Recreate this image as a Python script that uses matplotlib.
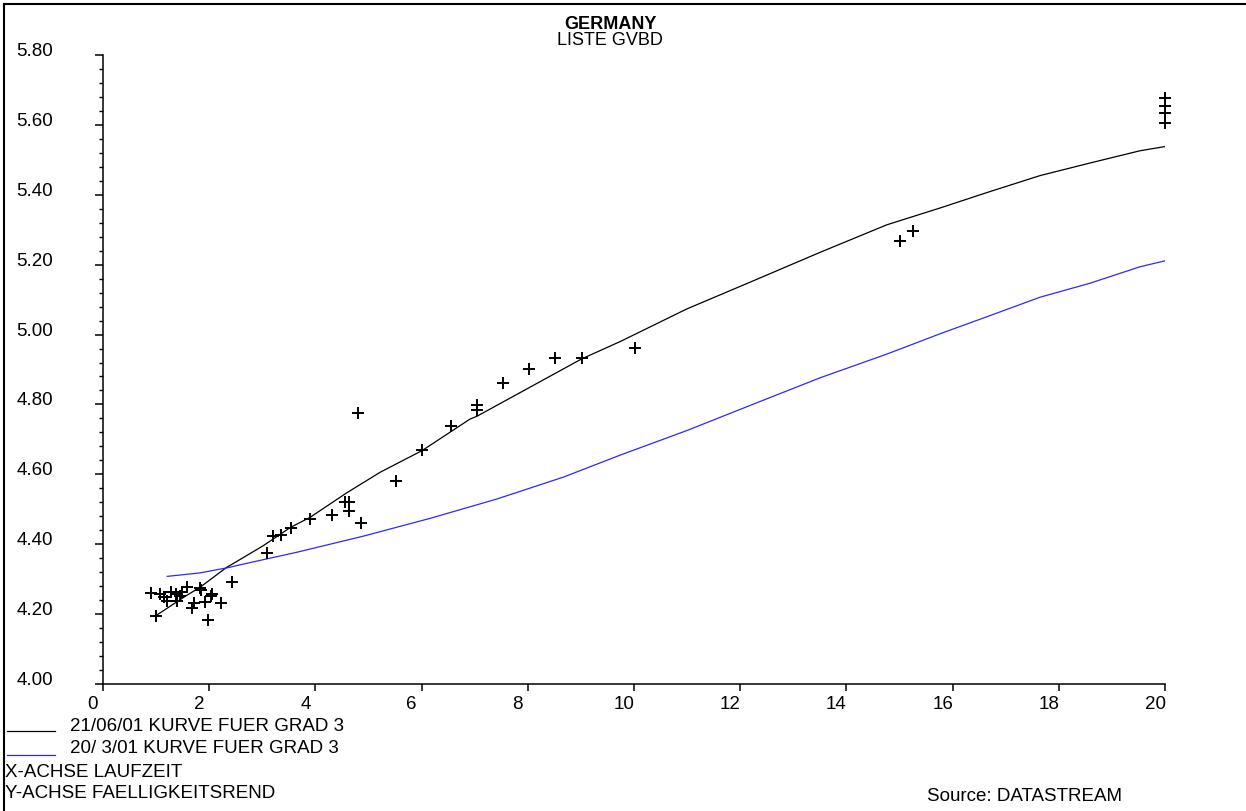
import matplotlib
matplotlib.use("Agg")
import matplotlib.pyplot as plt
from matplotlib.lines import Line2D
from matplotlib.ticker import MultipleLocator, FormatStrFormatter
from matplotlib.transforms import ScaledTranslation

plt.rcParams["font.family"] = ["Liberation Sans", "DejaVu Sans"]
FS = 13.5

# bonds: maturity (years) vs redemption yield
bond_mat = [0.90, 0.99, 1.07, 1.15, 1.21, 1.29, 1.37, 1.40, 1.45, 1.49,
            1.59, 1.67, 1.72, 1.83, 1.85, 1.92, 1.98, 2.03, 2.05, 2.23,
            2.42, 3.08, 3.21, 3.36, 3.54, 3.90, 4.32, 4.56, 4.64, 4.64,
            4.81, 4.86, 5.52, 6.01, 6.55, 7.04, 7.04, 7.54, 8.03, 8.52,
            9.02, 10.02, 15.00, 15.25, 20.0, 20.0, 20.0, 20.0]
bond_yld = [4.260, 4.195, 4.258, 4.250, 4.238, 4.262, 4.258, 4.238, 4.251, 4.264,
            4.278, 4.217, 4.232, 4.276, 4.270, 4.234, 4.184, 4.253, 4.258, 4.232,
            4.293, 4.374, 4.423, 4.427, 4.445, 4.472, 4.485, 4.522, 4.522, 4.496,
            4.775, 4.460, 4.582, 4.670, 4.737, 4.797, 4.784, 4.861, 4.902, 4.934,
            4.934, 4.962, 5.269, 5.295, 5.676, 5.655, 5.634, 5.605]

# fitted curve 21/06/01
curve1_x = [0.99, 1.57, 1.83, 2.33, 2.39, 3.02, 3.53, 3.90, 4.59, 5.22,
            6.01, 6.91, 7.04, 9.01, 9.74, 10.99, 12.25, 13.50, 14.76, 15.76,
            16.70, 17.65, 18.59, 19.53, 20.0]
curve1_y = [4.195, 4.253, 4.277, 4.334, 4.339, 4.396, 4.448, 4.477, 4.547, 4.606,
            4.668, 4.758, 4.766, 4.930, 4.980, 5.073, 5.154, 5.235, 5.314, 5.362,
            5.409, 5.455, 5.491, 5.526, 5.538]

# fitted curve 20/3/01
curve2_x = [1.21, 1.83, 2.39, 2.52, 3.65, 4.90, 6.16, 7.41, 8.67, 9.74,
            10.99, 12.25, 13.50, 14.76, 15.76, 16.70, 17.65, 18.59, 19.53, 20.0]
curve2_y = [4.308, 4.318, 4.334, 4.339, 4.377, 4.423, 4.474, 4.529, 4.592, 4.655,
            4.725, 4.801, 4.876, 4.944, 5.002, 5.054, 5.107, 5.147, 5.194, 5.211]

labels = ["21/06/01 KURVE FUER GRAD 3", "20/ 3/01 KURVE FUER GRAD 3"]
colors = ["black", "#2a2aff"]

W, H = 1246, 812
fig = plt.figure(figsize=(W / 100, H / 100), dpi=100)


def fx(px):
    return px / W


def fy(py):
    return 1 - py / H


ax = fig.add_axes([fx(103), fy(685), fx(1165) - fx(103), fy(56) - fy(685)])
ax.plot(curve1_x, curve1_y, color=colors[0], lw=0.9)
ax.plot(curve2_x, curve2_y, color=colors[1], lw=0.9)
ax.plot(bond_mat, bond_yld, "+", color="black", ms=9, mew=1.4, clip_on=False)

ax.set_xlim(0, 20)
ax.set_ylim(4.0, 5.8)
for s in ("top", "right"):
    ax.spines[s].set_visible(False)
for s in ("left", "bottom"):
    ax.spines[s].set_linewidth(1.1)

ax.xaxis.set_major_locator(MultipleLocator(2))
ax.yaxis.set_major_locator(MultipleLocator(0.2))
ax.yaxis.set_minor_locator(MultipleLocator(0.04))
ax.yaxis.set_major_formatter(FormatStrFormatter("%.2f"))
ax.tick_params(axis="y", which="major", direction="out", length=6, width=1.1, pad=30, labelsize=FS)
ax.tick_params(axis="y", which="minor", direction="out", length=3, width=1)
ax.tick_params(axis="x", direction="out", length=5, width=1.1, pad=3, labelsize=FS)

for lab in ax.get_yticklabels():
    lab.set_va("baseline")
shift = ScaledTranslation(-10 / 100, 0, fig.dpi_scale_trans)
for lab in ax.get_xticklabels():
    lab.set_transform(lab.get_transform() + shift)

# titles
fig.text(fx(610), fy(29), "GERMANY", ha="center", va="baseline", fontsize=13, fontweight="bold")
fig.text(fx(610), fy(45), "LISTE GVBD", ha="center", va="baseline", fontsize=13)

# legend block at the bottom
for i, (lab, col) in enumerate(zip(labels, colors)):
    fig.add_artist(Line2D([fx(7), fx(55)], [fy(732 + 24 * i)] * 2, color=col, lw=0.9,
                          transform=fig.transFigure))
    fig.text(fx(70), fy(731 + 22 * i), lab, ha="left", va="baseline", fontsize=FS)
fig.text(fx(5), fy(777), "X-ACHSE LAUFZEIT", ha="left", va="baseline", fontsize=FS)
fig.text(fx(5), fy(798), "Y-ACHSE FAELLIGKEITSREND", ha="left", va="baseline", fontsize=FS)
fig.text(fx(927), fy(801), "Source: DATASTREAM", ha="left", va="baseline", fontsize=FS)

# page frame: only the top and left edges show
fig.add_artist(Line2D([fx(4), fx(4)], [0, fy(5)], color="black", lw=1.5, transform=fig.transFigure))
fig.add_artist(Line2D([fx(4), 1], [fy(5), fy(5)], color="black", lw=1.5, transform=fig.transFigure))

fig.savefig("out.png", dpi=100)
